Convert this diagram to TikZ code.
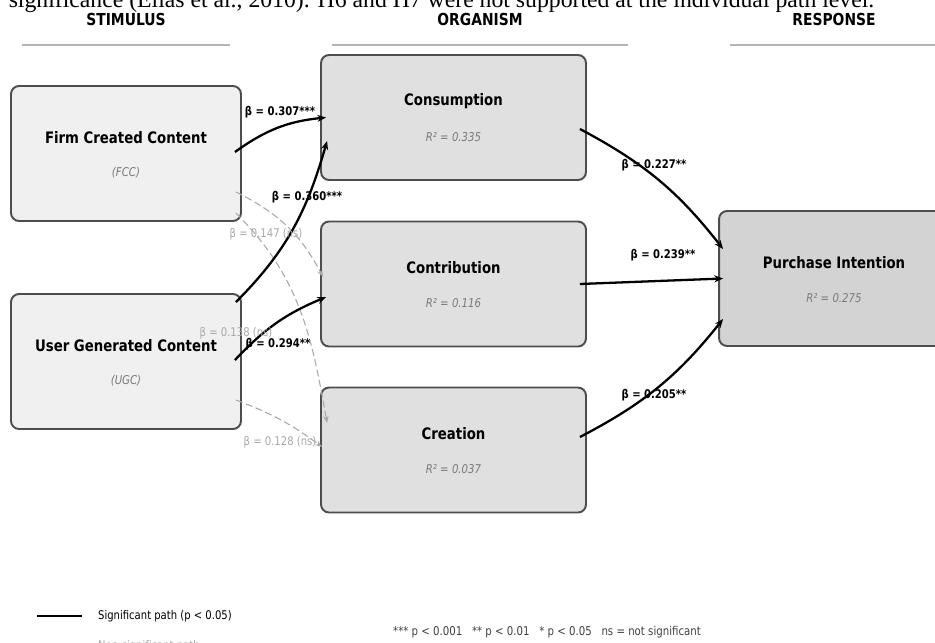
\documentclass[tikz,border=0pt]{standalone}
\usepackage{fontspec}
\setmainfont{DejaVu Sans}[FakeStretch=0.84]
\newfontfamily\bodyserif{Liberation Serif}
\usetikzlibrary{arrows.meta,calc}

\definecolor{stimfill}{HTML}{F0F0F0}
\definecolor{orgfill}{HTML}{E0E0E0}
\definecolor{respfill}{HTML}{D3D3D3}
\definecolor{boxedge}{HTML}{4D4D4D}
\definecolor{nsgray}{HTML}{A8A8A8}
\definecolor{rsqgray}{HTML}{7A7A7A}
\definecolor{rulegray}{HTML}{B4B4B4}

\begin{document}
\begin{tikzpicture}[x=0.02cm,y=-0.02cm,
  box/.style={draw=boxedge,line width=1.1pt,rounded corners=0.16cm,inner sep=0pt},
  stimbox/.style={box,fill=stimfill,minimum width=4.6cm,minimum height=2.7cm},
  orgbox/.style={box,fill=orgfill,minimum width=5.3cm,minimum height=2.5cm},
  respbox/.style={box,fill=respfill,minimum width=4.6cm,minimum height=2.7cm},
  head/.style={font=\bfseries\fontsize{9.4}{11}\selectfont},
  title/.style={font=\bfseries\fontsize{9}{11}\selectfont},
  sub/.style={text=rsqgray,font=\itshape\fontsize{6.9}{8}\selectfont},
  coef/.style={font=\bfseries\fontsize{6.8}{8}\selectfont,inner sep=1pt},
  nscoef/.style={text=nsgray,font=\fontsize{6.8}{8}\selectfont,inner sep=1pt},
  sig/.style={line width=1.3pt,-{Stealth[length=5pt,width=4pt]}},
  nonsig/.style={nsgray,line width=0.6pt,dash pattern=on 4pt off 2pt,-{Stealth[length=4pt,width=3pt]}},
  legtext/.style={anchor=west,font=\fontsize{6.8}{8}\selectfont}]
\useasboundingbox (0,0) rectangle (935,642);
\clip (0,0) rectangle (935,642);

% text of the page above the figure
\node[anchor=base,inner sep=0pt,font=\bodyserif\fontsize{13.5}{15}\selectfont] (pagetext) at (441.5,8)
  {significance (Elias et al., 2010). H6 and H7 were not supported at the individual path level.};

% column headings
\node[head] (stim) at (126,19) {STIMULUS};
\node[head] (orga) at (480,19) {ORGANISM};
\node[head] (resp) at (834,19) {RESPONSE};
\draw[rulegray,line width=1.1pt] (22,45) -- (230,45);
\draw[rulegray,line width=1.1pt] (332,45) -- (628,45);
\draw[rulegray,line width=1.1pt] (730,45) -- (938,45);

% boxes
\node[stimbox] (fcc) at (126,153.5) {};
\node[stimbox] (ugc) at (126,361.5) {};
\node[orgbox] (cons) at (453.5,117.5) {};
\node[orgbox] (contr) at (453.5,284) {};
\node[orgbox] (creat) at (453.5,450) {};
\node[respbox] (pi) at (834,278.5) {};

\node[title] (fcc-t) at ($(fcc.center)+(0,-16)$) {Firm Created Content};
\node[sub] (fcc-s) at ($(fcc.center)+(0,19.5)$) {(FCC)};
\node[title] (ugc-t) at ($(ugc.center)+(0,-16)$) {User Generated Content};
\node[sub] (ugc-s) at ($(ugc.center)+(0,19.5)$) {(UGC)};
\node[title] (cons-t) at ($(cons.center)+(0,-16)$) {Consumption};
\node[sub] (cons-s) at ($(cons.center)+(0,19.5)$) {R² = 0.335};
\node[title] (contr-t) at ($(contr.center)+(0,-16)$) {Contribution};
\node[sub] (contr-s) at ($(contr.center)+(0,19.5)$) {R² = 0.116};
\node[title] (creat-t) at ($(creat.center)+(0,-16)$) {Creation};
\node[sub] (creat-s) at ($(creat.center)+(0,19.5)$) {R² = 0.037};
\node[title] (pi-t) at ($(pi.center)+(0,-16)$) {Purchase Intention};
\node[sub] (pi-s) at ($(pi.center)+(0,19.5)$) {R² = 0.275};

% non significant paths
\draw[nonsig] ($(fcc.east)+(-6,38.5)$) to[bend left=18] ($(contr.west)+(3,-7)$);
\draw[nonsig] ($(fcc.east)+(-6,59.5)$) to[out=-45,in=100] ($(creat.west)+(7,-27)$);
\draw[nonsig] ($(ugc.east)+(-6,38.5)$) to[bend left=8] ($(creat.west)+(2,-3)$);

% significant paths
\draw[sig] ($(fcc.east)+(-7,-1.5)$) to[bend left=15] ($(cons.west)+(6,0)$);
\draw[sig] ($(ugc.east)+(-6,-59.5)$) to[out=45,in=-106] ($(cons.west)+(7,23.5)$);
\draw[sig] ($(ugc.east)+(-7,-1.5)$) to[bend left=12] ($(contr.west)+(6,13)$);
\draw[sig] ($(cons.east)+(-7,11.5)$) to[bend left=12] ($(pi.west)+(5,-29.5)$);
\draw[sig] ($(contr.east)+(-7,0)$) -- ($(pi.west)+(5,0)$);
\draw[sig] ($(creat.east)+(-7,-13)$) to[bend right=12] ($(pi.west)+(5,40.5)$);

% coefficients
\node[coef] (b1) at (280,112) {β = 0.307***};
\node[coef] (b2) at (307,197) {β = 0.360***};
\node[coef] (b3) at (278,344) {β = 0.294**};
\node[nscoef] (b4) at (266,234) {β = 0.147 (ns)};
\node[nscoef] (b5) at (236,333) {β = 0.138 (ns)};
\node[nscoef] (b6) at (280,442) {β = 0.128 (ns)};
\node[coef] (b7) at (654,165) {β = 0.227**};
\node[coef] (b8) at (663,255) {β = 0.239**};
\node[coef] (b9) at (654,395) {β = 0.205**};

% legend
\draw[line width=1.3pt] (37,616) -- (82,616);
\node[legtext] (leg1) at (92,616) {Significant path (p < 0.05)};
\draw[nsgray,line width=0.8pt,dash pattern=on 4pt off 2pt] (37,646) -- (82,646);
\node[legtext,text=nsgray] (leg2) at (92,646) {Non-significant path};
\node[font=\fontsize{6.9}{8}\selectfont,text=black!75] (note) at (547,632)
  {*** p < 0.001 \ \ ** p < 0.01 \ \ * p < 0.05 \ \ ns = not significant};
\end{tikzpicture}
\end{document}
